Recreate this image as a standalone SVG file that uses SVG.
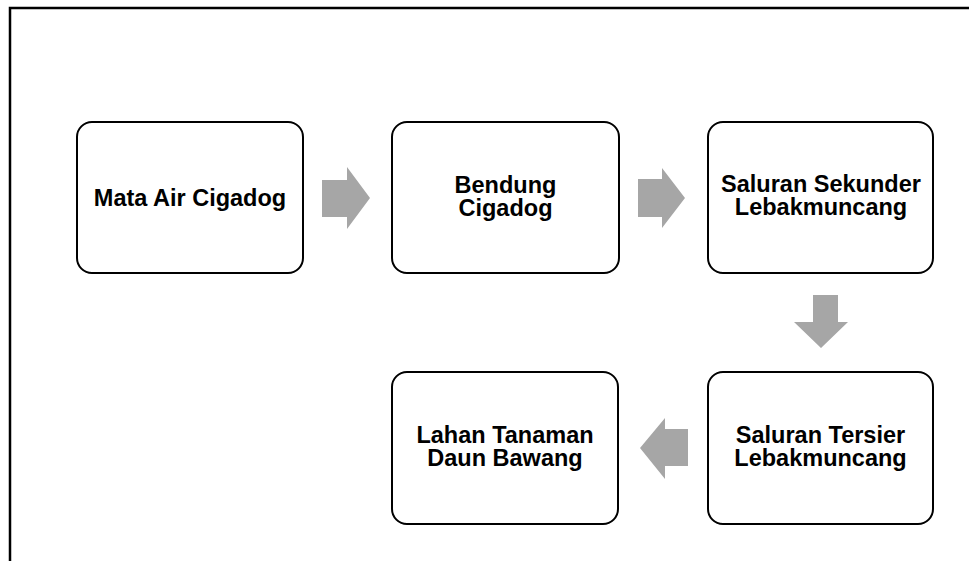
<svg xmlns="http://www.w3.org/2000/svg" width="969" height="561" viewBox="0 0 969 561">
<style>
.box{fill:#fff;stroke:#000;stroke-width:2}
.lbl{font-family:"Liberation Sans",Arial,sans-serif;font-weight:bold;font-size:23.5px;fill:#000;text-anchor:middle}
.arr{fill:#a6a6a6}
.frame{stroke:#000;stroke-width:2.5;fill:none}
</style>
<rect width="969" height="561" fill="#fff"/>
<path class="frame" d="M10,561 V8 H969"/>
<g id="connectors">
<path class="arr" d="M322,180 H347 V167 L370,198 L347,229 V217 H322 Z"/>
<path class="arr" d="M638,179 H662 V168 L685,198 L662,228 V217 H638 Z"/>
<path class="arr" d="M813,295 H838 V322 H848 L821,348 L794,322 H813 Z"/>
<path class="arr" d="M688,429 H665 V418 L640,448 L665,479 V466 H688 Z"/>
</g>
<g id="n1">
<rect class="box" x="77" y="122" width="226" height="151" rx="15"/>
<text class="lbl" x="190" y="206">Mata Air Cigadog</text>
</g>
<g id="n2">
<rect class="box" x="392" y="122" width="227" height="151" rx="15"/>
<text class="lbl" x="505.5" y="193">Bendung</text>
<text class="lbl" x="505.5" y="216">Cigadog</text>
</g>
<g id="n3">
<rect class="box" x="708" y="122" width="225" height="151" rx="15"/>
<text class="lbl" x="821" y="192">Saluran Sekunder</text>
<text class="lbl" x="821" y="215">Lebakmuncang</text>
</g>
<g id="n4">
<rect class="box" x="392" y="372" width="226" height="152" rx="15"/>
<text class="lbl" x="505" y="443">Lahan Tanaman</text>
<text class="lbl" x="505" y="466">Daun Bawang</text>
</g>
<g id="n5">
<rect class="box" x="708" y="372" width="225" height="152" rx="15"/>
<text class="lbl" x="820.5" y="443">Saluran Tersier</text>
<text class="lbl" x="820.5" y="466">Lebakmuncang</text>
</g>
</svg>
